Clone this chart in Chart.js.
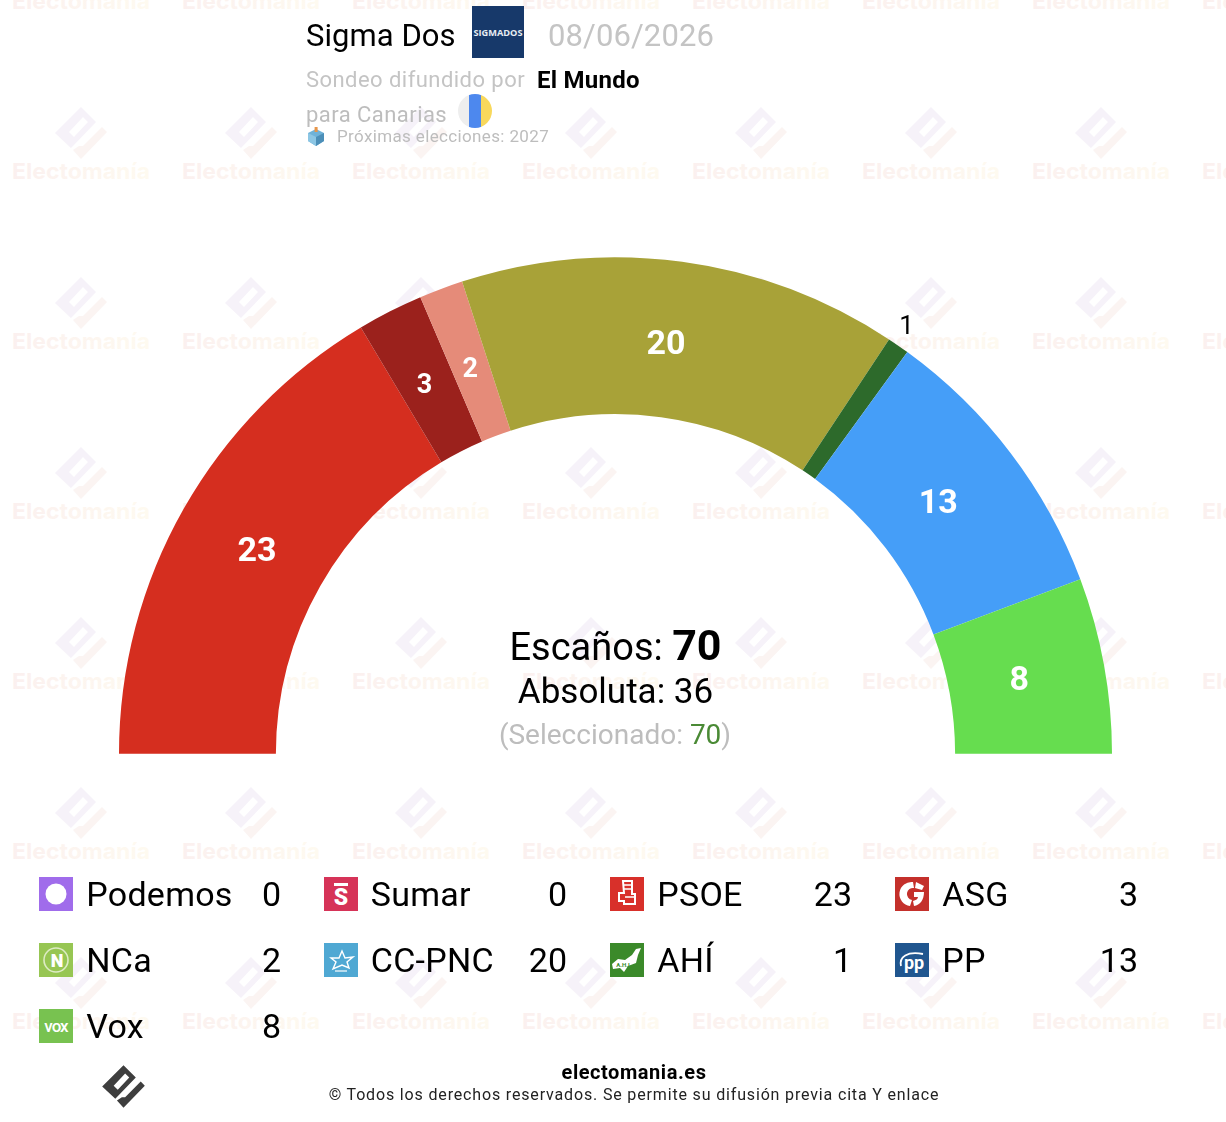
<!DOCTYPE html>
<html lang="es"><head><meta charset="utf-8"><title>Sigma Dos</title>
<script src="https://cdn.jsdelivr.net/npm/chart.js@4"></script>
<style>
html,body{margin:0;padding:0;background:#fff;}
#page{position:relative;width:1226px;height:1122px;overflow:hidden;font-family:Roboto,sans-serif;color:#000;}
#wm{position:absolute;left:0;top:0;}
#cv{position:absolute;left:0;top:0;width:1226px;height:1122px;}
.t{position:absolute;white-space:nowrap;line-height:1;}
.c{transform:translateX(-50%);}
.r{transform:translateX(-100%);}
</style></head><body><div id="page">
<svg id="wm" width="1226" height="1122" xmlns="http://www.w3.org/2000/svg">
<defs><linearGradient id="wg" x1="0" x2="1" y1="0" y2="0"><stop offset="0" stop-color="#FBF0EF"/><stop offset="1" stop-color="#FEFAF0"/></linearGradient></defs>
<g id="wmg"></g></svg>
<canvas id="cv" width="1226" height="1122"></canvas>
<div id="ui"></div>
</div>
<script>
const parties=['Podemos','Sumar','PSOE','ASG','NCa','CC-PNC','AHÍ','PP','Vox'];
const seats=[0,0,23,3,2,20,1,13,8];
const colors=['#A06CEB','#D63358','#D52E1F','#9B211C','#E58B79','#A8A238','#2D6A2B','#459EF8','#66DD4F'];
const iconColors=['#A06CEB','#D63358','#D8302A','#C4302B','#97C653','#4FA8D3','#3B8A2A','#20568F','#78C250'];
const totalSeats=70, majority=36, selected=70;

const BODY='M0-26 15-11-10 15-26 0Z M-12-1-7 4 7-11 2-16Z';
const CHECK='M-8 17 0 26 26-1 21-6 2 13-2 13Z';
const NS='http://www.w3.org/2000/svg';
const wmg=document.getElementById('wmg');
for(let row=0;row<7;row++)for(let col=0;col<8;col++){
  const cx=81+170*col, cy=row*170;
  const g=document.createElementNS(NS,'g');
  g.setAttribute('transform',`translate(${cx},${cy-37})`);
  g.innerHTML=`<path d="${BODY}" fill="#F6F2F9" fill-rule="evenodd"/><path d="${CHECK}" fill="#FBF4F2"/>`;
  wmg.appendChild(g);
  const t=document.createElementNS(NS,'text');
  t.setAttribute('x',cx);t.setAttribute('y',cy+9);t.setAttribute('text-anchor','middle');
  t.setAttribute('font-family','Inter');t.setAttribute('font-weight','700');t.setAttribute('font-size','22');
  t.setAttribute('textLength','138');t.setAttribute('lengthAdjust','spacingAndGlyphs');
  t.setAttribute('fill','url(#wg)');
  t.textContent='Electomanía';
  wmg.appendChild(t);
}

const arcLabels={
  id:'arcLabels',
  afterDatasetsDraw(chart){
    const nudge=[[0,0],[0,0],[1,2],[-2,3],[1,5],[-5,0],[-3,-3],[-6,0],[-3,1]];
    const ctx=chart.ctx, arcs=chart.getDatasetMeta(0).data;
    ctx.save();ctx.textAlign='center';ctx.textBaseline='middle';
    arcs.forEach((a,i)=>{
      const v=seats[i]; if(!v) return;
      const mid=(a.startAngle+a.endAngle)/2;
      const thick=a.outerRadius-a.innerRadius;
      let r,font,col;
      if(v===1){r=a.outerRadius+20;font='400 26px Roboto';col='#000';}
      else if(v<5){r=a.innerRadius+thick*0.49;font='700 27px Roboto';col='#fff';}
      else{r=a.innerRadius+thick*0.47;font='700 34px Roboto';col='#fff';}
      ctx.font=font;ctx.fillStyle=col;
      ctx.fillText(String(v),a.x+Math.cos(mid)*r+nudge[i][0],a.y+Math.sin(mid)*r+1+nudge[i][1]);
    });
    ctx.restore();
  }
};
new Chart(document.getElementById('cv'),{
  type:'doughnut',
  data:{labels:parties,datasets:[{data:seats,backgroundColor:colors,borderWidth:0,hoverOffset:0}]},
  options:{
    responsive:false,animation:false,devicePixelRatio:1,
    rotation:-90,circumference:180,cutout:'68.4%',
    layout:{padding:{left:119,right:114,top:257,bottom:368}},
    plugins:{legend:{display:false},tooltip:{enabled:false},title:{display:false}}
  },
  plugins:[arcLabels]
});

const ui=document.getElementById('ui');
function txt(s,x,cy,size,opts={}){
  const d=document.createElement('div');
  d.className='t '+(opts.cls||'');
  d.style.left=x+'px';d.style.top=(cy-size/2)+'px';d.style.fontSize=size+'px';
  d.style.color=opts.color||'#000';d.style.fontWeight=opts.w||400;
  if(opts.ls)d.style.letterSpacing=opts.ls+'px';
  if(opts.html)d.innerHTML=s;else d.textContent=s;
  ui.appendChild(d);return d;
}
function svg(x,y,w,h,inner){
  const d=document.createElement('div');
  d.style.cssText=`position:absolute;left:${x}px;top:${y}px;width:${w}px;height:${h}px;line-height:0`;
  d.innerHTML=`<svg xmlns="${NS}" width="${w}" height="${h}" viewBox="0 0 ${w} ${h}">${inner}</svg>`;
  ui.appendChild(d);
}
// header
txt('Sigma Dos',306,35.5,31,{ls:.05});
svg(472,6,52,52,'<rect width="52" height="52" fill="#17396A"/><text x="26" y="29.5" text-anchor="middle" font-family="Open Sans" font-weight="700" font-size="9" fill="#E8EDF3" textLength="49" lengthAdjust="spacingAndGlyphs">SIGMADOS</text>');
txt('08/06/2026',548,35.5,31,{color:'#C4C4C4',ls:.1});
txt('Sondeo difundido por',306,80,22,{color:'#C4C4C4',ls:.45});
txt('El Mundo',537,80,24,{w:700,ls:.25});
txt('para Canarias',306,115,22,{color:'#BDBDBD',ls:.45});
svg(458,94,34,34,'<defs><clipPath id="fl"><circle cx="17" cy="17" r="17"/></clipPath></defs><g clip-path="url(#fl)"><rect width="12" height="34" fill="#EEEEEE"/><rect x="11" width="12" height="34" fill="#4D88EE"/><rect x="23" width="11" height="34" fill="#F8D85C"/></g>');
svg(306,127,20,20,'<path d="M2 6 10 2 18 6 18 14 10 19 2 14Z" fill="#6FB2D8"/><path d="M2 6 10 10 10 19 2 14Z" fill="#8CC6E4"/><path d="M10 10 18 6 18 14 10 19Z" fill="#4C8FB8"/><rect x="8.6" y="0" width="3" height="5" fill="#E8964A"/>');
txt('Próximas elecciones: 2027',337,136,17,{color:'#BDBDBD',ls:.36});
// centre
txt(`Escaños: <b style="font-size:43px;font-weight:700">${totalSeats}</b>`,615.5,643,38,{html:true,cls:'c'});
txt(`Absoluta: ${majority}`,615.5,691,35,{cls:'c'});
txt(`(Seleccionado: <span style="color:#4A8A35">${selected}</span>)`,615,735,28,{html:true,cls:'c',color:'#BDBDBD'});
// legend
const colX=[39,324,610,895], nameX=[86.3,370.8,657.3,942.3], valR=[281,567,852,1138], rowY=[894,960,1026];
const iconArt=[
 '<circle cx="17" cy="17" r="10.5" fill="#fff"/>',
 '<rect x="10" y="6" width="14" height="3" fill="#fff"/><text x="17" y="28" text-anchor="middle" font-family="Roboto" font-weight="900" font-size="23" fill="#fff">S</text>',
 '<path d="M13 4h9v13h3v10H14v-3H9v-8h5Z" fill="none" stroke="#fff" stroke-width="2"/><path d="M14 8h7M14 12h8M15 20h9" stroke="#fff" stroke-width="1.4"/>',
 '<path d="M18 5A12 12 0 0 0 15 29L17 23A6 6 0 0 1 19 11Z M19 15H29C29 23 25 28 19 29L18 24C21 23 23 22 23 20H19Z M21 5 20 11 27 13 29 9Z" fill="#fff"/>',
 '<circle cx="17" cy="17" r="12" fill="none" stroke="#DDEBC4" stroke-width="1.6"/><text x="18" y="24" text-anchor="middle" font-family="Roboto" font-weight="900" font-size="18" fill="#fff">N</text>',
 '<path d="M18 8 21 15 29 14 23 19 25 25 18 22 9 26 12 19 7 15 15 15Z" fill="none" stroke="#fff" stroke-width="1.4"/><path d="M11 28h12" stroke="#fff" stroke-width="1.2"/>',
 '<path d="M2 21 8 16 15 17 22 12 26 6 31 5 28 12 26 20 18 23 14 29 10 25 3 26Z" fill="#fff"/><text x="13" y="24" text-anchor="middle" font-family="Roboto" font-weight="700" font-size="6" fill="#3B8A2A">A.H.I</text>',
 '<path d="M6 23C4 14 12 8 28 11" fill="none" stroke="#fff" stroke-width="1.8"/><text x="19" y="26" text-anchor="middle" font-family="Roboto" font-weight="700" font-size="18" fill="#fff">pp</text>',
 '<text x="17" y="23" text-anchor="middle" font-family="Roboto" font-weight="500" font-size="17" letter-spacing="-1" fill="#fff">vox</text>'
];
parties.forEach((p,i)=>{
  const c=i%4, r=Math.floor(i/4);
  svg(colX[c],rowY[r]-17,34,34,`<rect width="34" height="34" fill="${iconColors[i]}"/>`+iconArt[i]);
  txt(p,nameX[c],rowY[r],34,{ls:.25});
  txt(String(seats[i]),valR[c],rowY[r],34,{cls:'r'});
});
// footer
svg(102,1065,43,43,`<g transform="translate(21.5,21.5) scale(.82)"><path d="${BODY}" fill="#3E3E3E" fill-rule="evenodd"/><path d="${CHECK}" fill="#3E3E3E"/></g>`);
txt('electomania.es',634,1072,20,{cls:'c',w:700,ls:.55});
txt('© Todos los derechos reservados. Se permite su difusión previa cita Y enlace',634,1095,16,{cls:'c',ls:.84,color:'#222'});
</script></body></html>
